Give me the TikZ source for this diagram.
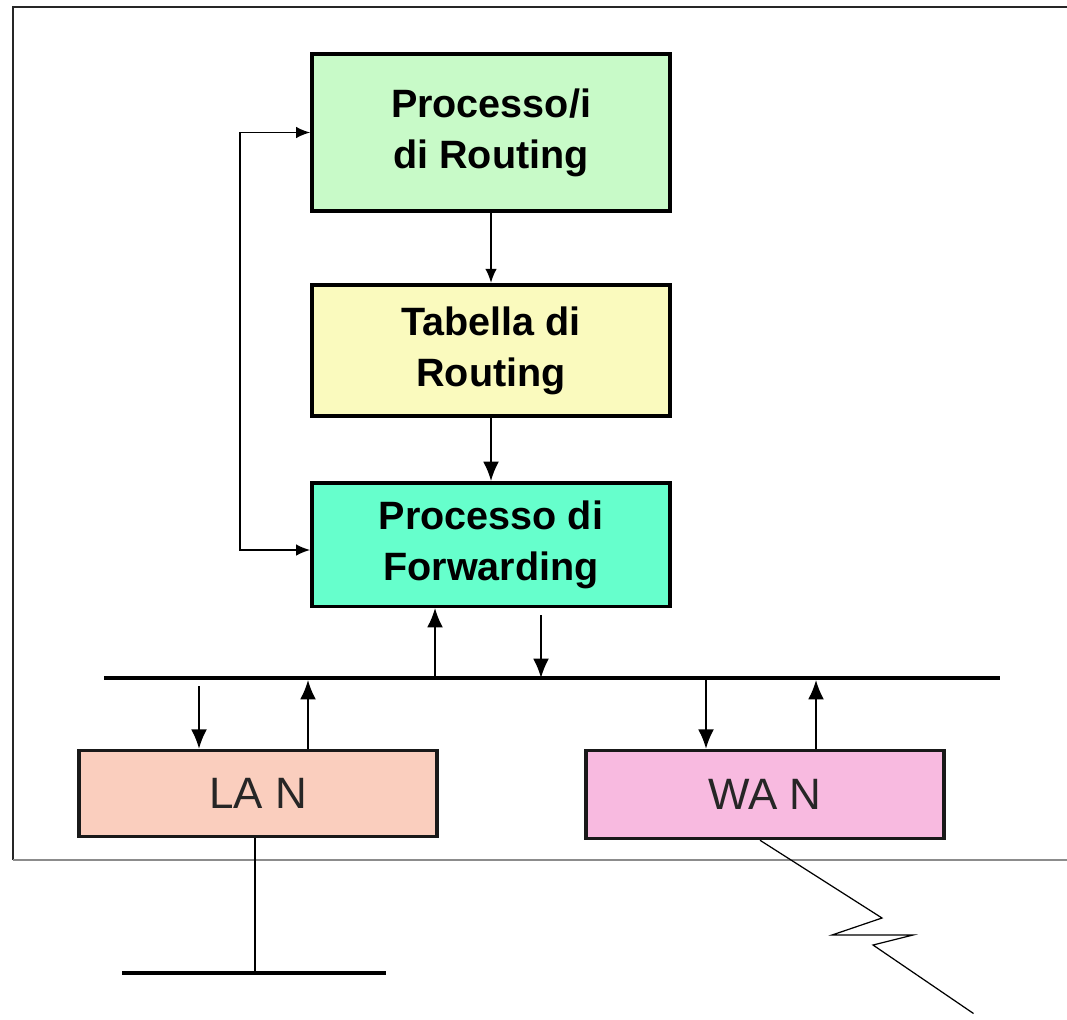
\documentclass[tikz,border=0pt]{standalone}
\usepackage{fontspec}
\setmainfont{Liberation Sans}
\usetikzlibrary{arrows.meta}

\definecolor{rpgreen}{RGB}{200,250,200}
\definecolor{tabyellow}{RGB}{250,250,190}
\definecolor{fwdteal}{RGB}{102,255,204}
\definecolor{lansalmon}{RGB}{250,206,190}
\definecolor{wanpink}{RGB}{248,186,224}

\begin{document}
\begin{tikzpicture}[
  blk/.style={draw=black, line width=2pt, align=center, inner sep=0pt,
              minimum width=7.16cm, font=\fontsize{22.5}{29}\selectfont\bfseries},
  net/.style={draw=black!90, line width=2pt, inner sep=0pt,
              minimum width=7.16cm, font=\fontsize{25}{30}\selectfont, text=black!85},
  thin/.style={line width=1pt, -{Latex[length=8pt, width=6.5pt]}},
  fat/.style={line width=1pt, -{Latex[length=11pt, width=9pt]}},
  bus/.style={line width=2.2pt}
]
  \useasboundingbox (0,0) rectangle (21.34,-20.38);

  % frame
  \draw[line width=1pt, black!85] (21.34,-0.14) -- (0.26,-0.14) -- (0.26,-17.2);
  \draw[line width=1pt, black!45] (0.26,-17.2) -- (21.34,-17.2);

  \node[blk, fill=rpgreen, minimum height=3.15cm]   (rp)  at (9.82,-2.65)  {Processo/i\\di Routing};
  \node[blk, fill=tabyellow, minimum height=2.63cm] (tab) at (9.82,-7.01)  {Tabella di\\Routing};
  \node[blk, fill=fwdteal, minimum height=2.47cm]   (fwd) at (9.82,-10.89) {Processo di\\Forwarding};
  \node[net, fill=lansalmon, minimum height=1.72cm] (lan) at (5.16,-15.87) {LA N};
  \node[net, fill=wanpink, minimum height=1.76cm]   (wan) at (15.3,-15.89) {WA N};

  % bus
  \coordinate (busL) at (2.08,-13.56);
  \coordinate (busR) at (20.0,-13.56);
  \draw[bus] (busL) -- (busR);

  \draw[thin] (rp) -- (tab);
  \draw[fat] (tab) -- (fwd);
  \draw[line width=1pt, {Latex[length=8pt, width=6.5pt]}-{Latex[length=8pt, width=6.5pt]}]
    (rp.west) -- ++(-1.4,0) |- ([yshift=-0.11cm]fwd.west);

  \coordinate (fu) at (8.7,-13.56);
  \coordinate (fd) at (10.82,-12.3);
  \draw[fat] (fu) -- (fu |- fwd.south);
  \draw[fat] (fd) -- (fd |- busL);

  \coordinate (ld) at (3.98,-13.72);
  \coordinate (lu) at (6.16,-13.6);
  \draw[fat] (ld) -- (ld |- lan.north);
  \draw[fat] (lu |- lan.north) -- (lu);

  \coordinate (wd) at (14.12,-13.6);
  \coordinate (wu) at (16.32,-13.6);
  \draw[fat] (wd) -- (wd |- wan.north);
  \draw[fat] (wu |- wan.north) -- (wu);

  % LAN segment
  \coordinate (seg) at (5.1,-19.46);
  \draw[line width=0.9pt] (seg |- lan.south) -- (seg);
  \draw[bus] (2.44,-19.46) -- (7.72,-19.46);

  % WAN link
  \draw[line width=0.7pt] ([xshift=-0.1cm]wan.south) -- (17.64,-18.36) -- (16.64,-18.7)
    -- (18.26,-18.7) -- (17.46,-18.9) -- (19.47,-20.27);
\end{tikzpicture}
\end{document}
